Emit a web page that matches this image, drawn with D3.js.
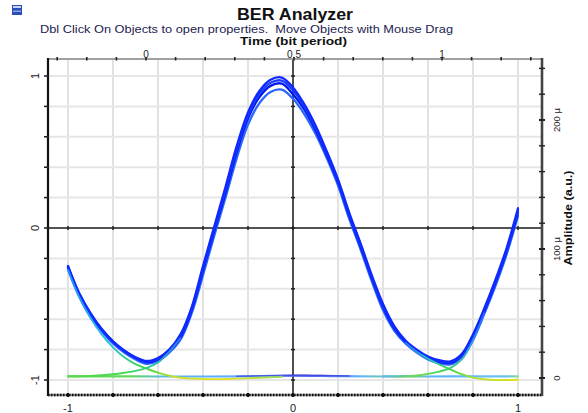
<!DOCTYPE html>
<html><head><meta charset="utf-8">
<script src="https://cdn.jsdelivr.net/npm/d3@7"></script>
<style>body{margin:0;background:#fff}svg{display:block;font-family:"Liberation Sans",Arial,sans-serif}</style>
</head><body><svg id="c" width="588" height="413"></svg>
<script>
// ---- data ----
const titleText = "BER Analyzer";
const subtitleText = "Dbl Click On Objects to open properties.  Move Objects with Mouse Drag";
const topAxisTitle = "Time (bit period)";
const rightAxisTitle = "Amplitude (a.u.)";
const topTickLabels = [0, 0.5, 1];
const bottomTickLabels = [-1, 0, 1];
const leftTickLabels = [-1, 0, 1];
const rightTickValues = [0, 100e-6, 200e-6];
const rightTickLabels = ["0", "100 \u00b5", "200 \u00b5"];

const xSamples = [-1,-0.95,-0.9,-0.85,-0.8,-0.75,-0.7,-0.65,-0.6,-0.55,-0.5,-0.45,-0.4,-0.35,-0.3,-0.25,-0.2,-0.15,-0.1,-0.05,0,0.05,0.1,0.15,0.2,0.25,0.3,0.35,0.4,0.45,0.5,0.55,0.6,0.65,0.7,0.75,0.8,0.85,0.9,0.95,1.0];
const pulseHigh = [-0.25,-0.43,-0.56,-0.665,-0.745,-0.805,-0.85,-0.875,-0.855,-0.80,-0.70,-0.52,-0.25,0.01,0.27,0.54,0.76,0.90,0.975,0.99,0.925,0.815,0.675,0.505,0.32,0.10,-0.10,-0.31,-0.50,-0.645,-0.74,-0.80,-0.845,-0.87,-0.878,-0.83,-0.70,-0.53,-0.34,-0.13,0.13];
const pulse2 = [-0.255,-0.435,-0.565,-0.668,-0.748,-0.808,-0.853,-0.879,-0.86,-0.805,-0.71,-0.53,-0.265,-0.005,0.25,0.52,0.74,0.88,0.955,0.97,0.905,0.80,0.66,0.495,0.31,0.09,-0.11,-0.32,-0.51,-0.652,-0.745,-0.805,-0.85,-0.875,-0.883,-0.835,-0.71,-0.54,-0.35,-0.14,0.115];
const pulseMid = [-0.26,-0.44,-0.57,-0.67,-0.75,-0.81,-0.855,-0.883,-0.865,-0.81,-0.72,-0.54,-0.28,-0.02,0.23,0.50,0.72,0.86,0.935,0.95,0.88,0.78,0.645,0.48,0.30,0.08,-0.12,-0.33,-0.52,-0.66,-0.75,-0.81,-0.855,-0.88,-0.888,-0.84,-0.72,-0.55,-0.36,-0.15,0.10];
const pulseLow = [-0.27,-0.45,-0.585,-0.68,-0.76,-0.82,-0.865,-0.893,-0.875,-0.82,-0.735,-0.56,-0.31,-0.05,0.20,0.46,0.68,0.82,0.895,0.91,0.85,0.75,0.62,0.46,0.28,0.06,-0.14,-0.35,-0.54,-0.675,-0.76,-0.82,-0.865,-0.89,-0.897,-0.85,-0.735,-0.565,-0.38,-0.17,0.08];

const leftFallX = [-1,-0.95,-0.9,-0.85,-0.8,-0.75,-0.7,-0.65,-0.6,-0.55,-0.5,-0.45,-0.4,-0.35,-0.3,-0.25,-0.2,-0.15,-0.1,-0.05];
const leftFallY = [-0.275,-0.455,-0.59,-0.70,-0.785,-0.85,-0.895,-0.925,-0.952,-0.972,-0.985,-0.99,-0.993,-0.994,-0.993,-0.991,-0.988,-0.985,-0.982,-0.979];
const leftRiseX = [-1,-0.95,-0.9,-0.85,-0.8,-0.75,-0.7,-0.65,-0.6,-0.55,-0.5];
const leftRiseY = [-0.975,-0.975,-0.973,-0.969,-0.962,-0.952,-0.94,-0.92,-0.885,-0.815,-0.725];
const rightFallX = [0.5,0.55,0.6,0.65,0.7,0.75,0.8,0.85,0.9,0.95,1.0];
const rightFallY = [-0.755,-0.815,-0.86,-0.898,-0.93,-0.962,-0.984,-0.995,-1.0,-1.0,-0.998];
const rightRiseX = [0.4,0.45,0.5,0.55,0.6,0.65,0.7,0.75,0.8,0.85];
const rightRiseY = [-0.975,-0.975,-0.974,-0.97,-0.96,-0.945,-0.92,-0.865,-0.74,-0.56];
const flatX = [-1,-0.8,-0.6,-0.4,-0.2,0,0.2,0.4,0.6,0.8,1.0];
const flatY = [-0.976,-0.976,-0.977,-0.977,-0.976,-0.972,-0.975,-0.977,-0.977,-0.976,-0.976];
const bumpX = [-0.25,-0.15,-0.05,0.05,0.15,0.25];
const bumpY = [-0.975,-0.972,-0.968,-0.967,-0.97,-0.974];

// ---- layout ----
const svg = d3.select("#c");
const L = 48, R = 542, T = 59, B = 395;
const x = d3.scaleLinear().domain([-1, 1]).range([68, 518]);
const y = d3.scaleLinear().domain([-1, 1]).range([380, 76]);
const xTop = d3.scaleLinear().domain([0, 1]).range([146, 442]);
const yRight = d3.scaleLinear().domain([0, 200e-6]).range([378, 120]);

// icon
svg.append("rect").attr("x", 12).attr("y", 5).attr("width", 10).attr("height", 10).attr("fill", "#2c4cb8");
svg.append("rect").attr("x", 13).attr("y", 6).attr("width", 8).attr("height", 2).attr("fill", "#c8d4f0");
svg.append("rect").attr("x", 13).attr("y", 10.5).attr("width", 8).attr("height", 1.5).attr("fill", "#8fa6e0");

// titles
svg.append("text").attr("x", 295).attr("y", 19.5).attr("text-anchor", "middle")
  .attr("font-weight", "bold").attr("font-size", 16.5).attr("fill", "#111")
  .attr("textLength", 116).attr("lengthAdjust", "spacingAndGlyphs").text(titleText);
svg.append("text").attr("x", 246.5).attr("y", 32.5).attr("text-anchor", "middle")
  .attr("font-size", 10.5).attr("fill", "#1c1c50").style("white-space", "pre")
  .attr("textLength", 413).attr("lengthAdjust", "spacingAndGlyphs").text(subtitleText);
svg.append("text").attr("x", 293.5).attr("y", 45).attr("text-anchor", "middle")
  .attr("font-weight", "bold").attr("font-size", 11).attr("fill", "#111")
  .attr("textLength", 107).attr("lengthAdjust", "spacingAndGlyphs").text(topAxisTitle);

// grid
const gridV = d3.range(-1, 1.0001, 0.2);
const gridH = d3.range(-1, 1.0001, 0.2);
svg.append("g").selectAll("line").data(gridV).join("line")
  .attr("x1", d => x(d)).attr("x2", d => x(d)).attr("y1", T).attr("y2", B)
  .attr("stroke", "#e2e2e2").attr("stroke-width", 2);
svg.append("g").selectAll("line").data(gridH).join("line")
  .attr("x1", L).attr("x2", R).attr("y1", d => y(d)).attr("y2", d => y(d))
  .attr("stroke", "#e6e6e6").attr("stroke-width", 2);

// center axes
svg.append("line").attr("x1", L).attr("x2", R).attr("y1", y(0)).attr("y2", y(0)).attr("stroke", "#222").attr("stroke-width", 1.4);
svg.append("line").attr("x1", x(0)).attr("x2", x(0)).attr("y1", T).attr("y2", B).attr("stroke", "#111").attr("stroke-width", 1.4);
svg.append("g").selectAll("line").data(gridV).join("line")
  .attr("x1", d => x(d)).attr("x2", d => x(d)).attr("y1", y(0) - 2).attr("y2", y(0) + 2).attr("stroke", "#222").attr("stroke-width", 1.5);
svg.append("g").selectAll("line").data(gridH).join("line")
  .attr("x1", x(0) - 2).attr("x2", x(0) + 2).attr("y1", d => y(d)).attr("y2", d => y(d)).attr("stroke", "#222").attr("stroke-width", 1.5);

// frame: top
svg.append("line").attr("x1", L).attr("x2", R).attr("y1", T).attr("y2", T).attr("stroke", "#a0a0a0").attr("stroke-width", 2);
const topTicks = d3.range(-3, 14).map(i => i / 10);
svg.append("g").selectAll("line").data(topTicks).join("line")
  .attr("x1", d => xTop(d)).attr("x2", d => xTop(d)).attr("y1", T - 2).attr("y2", T + 1.5)
  .attr("stroke", "#222").attr("stroke-width", 1.6);
svg.append("g").selectAll("text").data(topTickLabels).join("text")
  .attr("x", d => xTop(d)).attr("y", 57.5).attr("text-anchor", "middle").attr("font-size", 10).attr("fill", "#222")
  .text(d => d);

// bottom axis
svg.append("line").attr("x1", L).attr("x2", R).attr("y1", B).attr("y2", B).attr("stroke", "#888").attr("stroke-width", 2.5);
svg.append("line").attr("x1", L).attr("x2", R).attr("y1", B).attr("y2", B).attr("stroke", "#111").attr("stroke-width", 2.5).attr("stroke-dasharray", "1.5,1.5");
svg.append("g").selectAll("line").data(gridV).join("line")
  .attr("x1", d => x(d)).attr("x2", d => x(d)).attr("y1", B - 2).attr("y2", B + 2).attr("stroke", "#111").attr("stroke-width", 2);
svg.append("g").selectAll("text").data(bottomTickLabels).join("text")
  .attr("x", d => x(d)).attr("y", 412).attr("text-anchor", "middle").attr("font-size", 11).attr("fill", "#222")
  .text(d => d);

// left axis
svg.append("line").attr("x1", L).attr("x2", L).attr("y1", T - 1).attr("y2", B + 1).attr("stroke", "#111").attr("stroke-width", 2.2);
svg.append("g").selectAll("line").data(gridH).join("line")
  .attr("x1", L - 4).attr("x2", L + 1).attr("y1", d => y(d)).attr("y2", d => y(d)).attr("stroke", "#222").attr("stroke-width", 1.6);
svg.append("g").selectAll("text").data(leftTickLabels).join("text")
  .attr("transform", d => `translate(39,${y(d)}) rotate(-90)`).attr("text-anchor", "middle").attr("font-size", 11).attr("fill", "#222")
  .text(d => d);

// right axis
svg.append("line").attr("x1", R).attr("x2", R).attr("y1", T - 1).attr("y2", B + 1).attr("stroke", "#444").attr("stroke-width", 2.6);
const rightTicks = d3.range(0, 13).map(i => i * 20e-6);
svg.append("g").selectAll("line").data(rightTicks).join("line")
  .attr("x1", R - 3).attr("x2", R + 3).attr("y1", d => yRight(d)).attr("y2", d => yRight(d))
  .attr("stroke", "#222").attr("stroke-width", d => (Math.round(d * 1e6) % 100 === 0 ? 2 : 1.4));
svg.append("g").selectAll("text").data(rightTickValues).join("text")
  .attr("transform", d => `translate(560,${yRight(d)}) rotate(-90)`).attr("text-anchor", "middle").attr("font-size", 9.5).attr("fill", "#222")
  .text((d, i) => rightTickLabels[i]);
svg.append("text").attr("transform", "translate(572,218) rotate(-90)").attr("text-anchor", "middle")
  .attr("font-size", 10).attr("font-weight", "bold").attr("fill", "#111")
  .attr("textLength", 95).attr("lengthAdjust", "spacingAndGlyphs").text(rightAxisTitle);

// ---- traces ----
const defs = svg.append("defs");
function grad(id, stops) {
  const g = defs.append("linearGradient").attr("id", id).attr("gradientUnits", "userSpaceOnUse")
    .attr("x1", x(-1)).attr("x2", x(1)).attr("y1", 0).attr("y2", 0);
  stops.forEach(([v, c]) => g.append("stop").attr("offset", (v + 1) / 2).attr("stop-color", c));
  return `url(#${id})`;
}
const line = d3.line().x(d => x(d[0])).y(d => y(d[1])).curve(d3.curveCatmullRom.alpha(0.5));
const zipXY = (xs, ys) => xs.map((v, i) => [v, ys[i]]);
const traces = svg.append("g").attr("fill", "none").attr("stroke-linecap", "round");

traces.append("path").attr("d", line(zipXY(flatX, flatY))).attr("stroke-width", 2.2)
  .attr("stroke", grad("gflat", [[-1, "#52d852"], [-0.72, "#66d860"], [-0.55, "#5ab4ff"], [-0.1, "#5aa8ff"], [0, "#4a5ae8"], [0.12, "#5a70f0"], [0.3, "#5ab4ff"], [0.5, "#8ed860"], [0.62, "#5ab4ff"], [0.95, "#6cc0f0"], [1, "#88e088"]]));
traces.append("path").attr("d", line(zipXY(bumpX, bumpY))).attr("stroke-width", 1.4).attr("stroke", "#3a3ad8").attr("opacity", 0.7);

const pulses = [[pulseLow, "#2a66ff"], [pulseMid, "#0018e8"], [pulse2, "#1a3cff"], [pulseHigh, "#1028ff"]];
pulses.forEach(([ys, c]) => traces.append("path").attr("d", line(zipXY(xSamples, ys))).attr("stroke", c).attr("stroke-width", 2.3));

traces.append("path").attr("d", line(zipXY(leftFallX, leftFallY))).attr("stroke-width", 1.9)
  .attr("stroke", grad("glf", [[-1, "#2a8cff"], [-0.82, "#26c0e0"], [-0.66, "#3ed840"], [-0.52, "#c8e030"], [-0.3, "#e8e020"], [-0.1, "#a8dc50"], [0, "#80d070"]]));
traces.append("path").attr("d", line(zipXY(leftRiseX, leftRiseY))).attr("stroke-width", 1.9)
  .attr("stroke", grad("glr", [[-1, "#5cd84a"], [-0.75, "#48d850"], [-0.62, "#30c8a0"], [-0.5, "#2a70ff"]]));
traces.append("path").attr("d", line(zipXY(rightFallX, rightFallY))).attr("stroke-width", 1.9)
  .attr("stroke", grad("grf", [[0.5, "#2a70ff"], [0.62, "#30c8b0"], [0.7, "#40d840"], [0.82, "#b8e030"], [1, "#e0e020"]]));
traces.append("path").attr("d", line(zipXY(rightRiseX, rightRiseY))).attr("stroke-width", 1.9)
  .attr("stroke", grad("grr", [[0.4, "#5ab4ff"], [0.55, "#70d850"], [0.68, "#40d860"], [0.78, "#30a8e0"], [0.85, "#2a60ff"]]));
</script></body></html>
